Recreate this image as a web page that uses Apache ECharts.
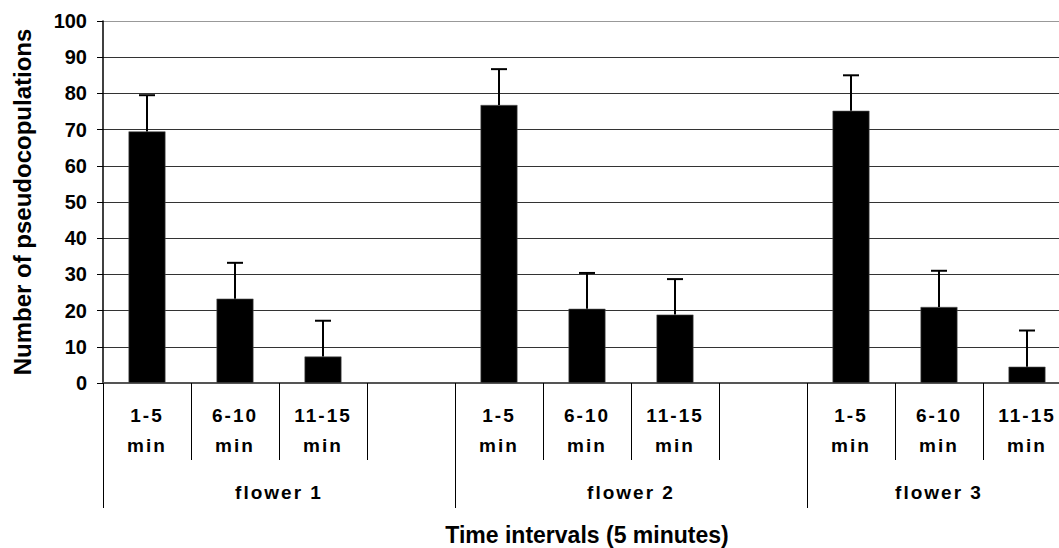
<!DOCTYPE html>
<html>
<head>
<meta charset="utf-8">
<script src="https://cdn.jsdelivr.net/npm/echarts@6/dist/echarts.min.js"></script>
<style>
html,body{margin:0;padding:0;background:#fff;}
#chart{width:1059px;height:548px;}
#chart text[style*="19px"]{letter-spacing:2px;}
</style>
</head>
<body>
<div id="chart"></div>
<script>
// Data
const categoryLabels = ['1-5\nmin','6-10\nmin','11-15\nmin','', '1-5\nmin','6-10\nmin','11-15\nmin','', '1-5\nmin','6-10\nmin','11-15\nmin'];
const values = [69.5, 23.3, 7.3, null, 76.8, 20.5, 18.9, null, 75.2, 21.0, 4.5];
const errors = [10.0, 9.9, 9.9, null, 9.9, 9.9, 9.8, null, 9.8, 10.0, 10.0];
const groupNames = ['flower 1', 'flower 2', 'flower 3'];
const groupCenters = [2, 6, 9.5];
const groupBounds = [0, 4, 8, 11];
const yTicks = [0,10,20,30,40,50,60,70,80,90,100];

const FONT = '"Liberation Sans", Arial, sans-serif';
const catIds = categoryLabels.map((_, i) => 'c' + i);

const errData = values.map((v, i) => v == null ? null : [i, v, errors[i]]).filter(d => d);

const chart = echarts.init(document.getElementById('chart'), null, {renderer: 'svg'});
chart.setOption({
  animation: false,
  backgroundColor: '#fff',
  grid: {left: 103, top: 21, width: 968, height: 362, containLabel: false, outerBoundsMode: 'none'},
  yAxis: {
    type: 'value', min: 0, max: 100, interval: 10,
    name: 'Number of pseudocopulations',
    nameLocation: 'middle', nameGap: 69, nameRotate: 90,
    nameTextStyle: {fontFamily: FONT, fontWeight: 'bold', fontSize: 24, color: '#000'},
    axisLine: {show: true, lineStyle: {color: '#000', width: 1.5}},
    axisTick: {show: true, inside: false, length: 6, lineStyle: {color: '#000', width: 1}},
    axisLabel: {fontFamily: FONT, fontWeight: 'bold', fontSize: 20, color: '#000', margin: 16,
      formatter: v => yTicks.indexOf(v) >= 0 ? String(v) : ''},
    splitLine: {show: true, lineStyle: {color: ['#333','#333','#333','#333','#333','#333','#333','#333','#333','#333','#999'], width: 1}}
  },
  xAxis: [
    {
      type: 'category', data: catIds, boundaryGap: true, position: 'bottom', offset: 0,
      axisLine: {show: true, lineStyle: {color: '#555', width: 2}},
      axisTick: {show: true, interval: 0, length: 77, lineStyle: {color: '#000', width: 1}},
      axisLabel: {interval: 0, fontFamily: FONT, fontWeight: 'bold', fontSize: 19, color: '#000',
        lineHeight: 30, margin: 17, formatter: (v, i) => categoryLabels[i]},
      splitLine: {show: false}
    },
    {
      type: 'value', min: 0, max: 11, position: 'bottom', offset: 0,
      name: 'Time intervals (5 minutes)', nameLocation: 'middle', nameGap: 140,
      nameTextStyle: {fontFamily: FONT, fontWeight: 'bold', fontSize: 23, color: '#000'},
      axisLine: {show: false},
      axisTick: {show: true, inside: false, length: 125, customValues: groupBounds, lineStyle: {color: '#000', width: 1}},
      axisLabel: {show: true, customValues: groupCenters, fontFamily: FONT, fontWeight: 'bold', fontSize: 19, color: '#000',
        margin: 100, formatter: v => groupNames[groupCenters.indexOf(v)] || ''},
      splitLine: {show: false}
    }
  ],
  series: [
    {
      type: 'bar', xAxisIndex: 0, yAxisIndex: 0, data: values, barWidth: '42%',
      itemStyle: {color: '#000', borderColor: '#555', borderWidth: 0.6}
    },
    {
      type: 'custom', xAxisIndex: 0, yAxisIndex: 0, data: errData,
      encode: {x: 0, y: 1},
      renderItem: function (params, api) {
        const idx = api.value(0), v = api.value(1), e = api.value(2);
        const base = api.coord([idx, v]);
        const top = api.coord([idx, v + e]);
        const hw = 8;
        return {
          type: 'group',
          children: [
            {type: 'line', shape: {x1: base[0], y1: base[1], x2: top[0], y2: top[1]}, style: {stroke: '#000', lineWidth: 2}},
            {type: 'line', shape: {x1: top[0] - hw, y1: top[1], x2: top[0] + hw, y2: top[1]}, style: {stroke: '#000', lineWidth: 2}}
          ]
        };
      },
      z: 3
    }
  ]
});
</script>
</body>
</html>
